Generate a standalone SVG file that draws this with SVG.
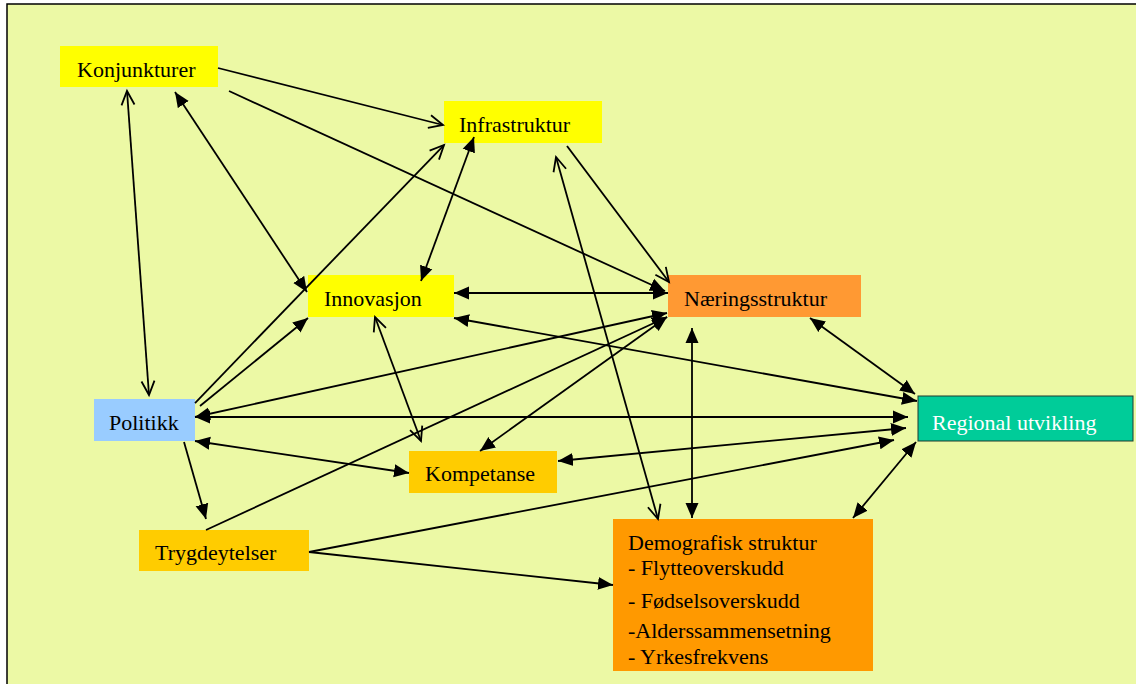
<svg xmlns="http://www.w3.org/2000/svg" width="1136" height="684" viewBox="0 0 1136 684">
<style>
.t{font-family:"Liberation Serif","Times New Roman",serif;font-size:22px;fill:#000}
.w{fill:#fff}
.c line{stroke:#000;stroke-width:1.8;fill:none}
.f{marker-end:url(#fa)}
.ff{marker-start:url(#fa);marker-end:url(#fa)}
.o{marker-end:url(#oa)}
.oo{marker-start:url(#oa);marker-end:url(#oa)}
</style>
<defs>
<marker id="fa" markerUnits="userSpaceOnUse" markerWidth="16" markerHeight="14" refX="15" refY="7" orient="auto-start-reverse" viewBox="0 0 16 14">
<path d="M0,0.5 L15,7 L0,13.5 z" fill="#000"/>
</marker>
<marker id="oa" markerUnits="userSpaceOnUse" markerWidth="18" markerHeight="16" refX="15" refY="8" orient="auto-start-reverse" viewBox="0 0 18 16">
<path d="M1,1.5 L15,8 L1,14.5" fill="none" stroke="#000" stroke-width="1.8"/>
</marker>
</defs>
<rect x="0" y="0" width="1136" height="684" fill="#fff"/>
<rect x="7" y="4" width="1140" height="700" fill="#ECF9A5" stroke="#000" stroke-width="1.5"/>
<g id="konjunkturer"><rect x="60" y="46" width="158" height="41" fill="#FFFF00"/><text class="t" x="77" y="77">Konjunkturer</text></g>
<g id="infrastruktur"><rect x="444" y="101" width="158" height="42" fill="#FFFF00"/><text class="t" x="459" y="132">Infrastruktur</text></g>
<g id="innovasjon"><rect x="308" y="275" width="146" height="42" fill="#FFFF00"/><text class="t" x="324" y="306">Innovasjon</text></g>
<g id="naeringsstruktur"><rect x="668" y="275" width="193" height="42" fill="#FF9933"/><text class="t" x="684" y="306">Næringsstruktur</text></g>
<g id="politikk"><rect x="94" y="399" width="101" height="42" fill="#99CCFF"/><text class="t" x="109" y="430">Politikk</text></g>
<g id="kompetanse"><rect x="409" y="451" width="148" height="42" fill="#FFCC00"/><text class="t" x="425" y="481">Kompetanse</text></g>
<g id="trygdeytelser"><rect x="139" y="530" width="170" height="41" fill="#FFCC00"/><text class="t" x="155" y="560">Trygdeytelser</text></g>
<g id="regional"><rect x="918" y="396" width="215" height="45" fill="#00CC99" stroke="#1E3B2E" stroke-width="1"/><text class="t w" x="932" y="430">Regional utvikling</text></g>
<g id="demografisk"><rect x="613" y="519" width="260" height="152" fill="#FF9900"/>
<text class="t" x="628" y="550">Demografisk struktur</text>
<text class="t" x="628" y="575">- Flytteoverskudd</text>
<text class="t" x="628" y="608">- Fødselsoverskudd</text>
<text class="t" x="628" y="638">-Alderssammensetning</text>
<text class="t" x="628" y="664">- Yrkesfrekvens</text></g>
<g id="connectors" class="c">
<line class="o" x1="218" y1="68" x2="443" y2="125"/>
<line class="f" x1="229" y1="91" x2="665" y2="291"/>
<line class="oo" x1="127" y1="91" x2="149" y2="395"/>
<line class="ff" x1="175" y1="92" x2="307" y2="292"/>
<line class="o" x1="195" y1="403" x2="444" y2="145"/>
<line class="f" x1="200" y1="406" x2="308" y2="318"/>
<line class="ff" x1="195" y1="417" x2="667" y2="313"/>
<line class="ff" x1="195" y1="417" x2="908" y2="417"/>
<line class="ff" x1="195" y1="441" x2="409" y2="473"/>
<line class="f" x1="184" y1="442" x2="206" y2="519"/>
<line class="f" x1="206" y1="530" x2="667" y2="317"/>
<line class="f" x1="309" y1="552" x2="894" y2="440"/>
<line class="f" x1="309" y1="552" x2="613" y2="585"/>
<line class="ff" x1="454" y1="293" x2="668" y2="293"/>
<line class="ff" x1="454" y1="318" x2="917" y2="401"/>
<line class="oo" x1="375" y1="317" x2="421" y2="441"/>
<line class="ff" x1="474" y1="137" x2="421" y2="281"/>
<line class="o" x1="567" y1="146" x2="669" y2="282"/>
<line class="oo" x1="556" y1="157" x2="658" y2="519"/>
<line class="ff" x1="667" y1="317" x2="480" y2="451"/>
<line class="ff" x1="692" y1="328" x2="692" y2="518"/>
<line class="ff" x1="810" y1="318" x2="915" y2="394"/>
<line class="ff" x1="558" y1="461" x2="906" y2="428"/>
<line class="ff" x1="853" y1="518" x2="916" y2="442"/>
</g>
</svg>
